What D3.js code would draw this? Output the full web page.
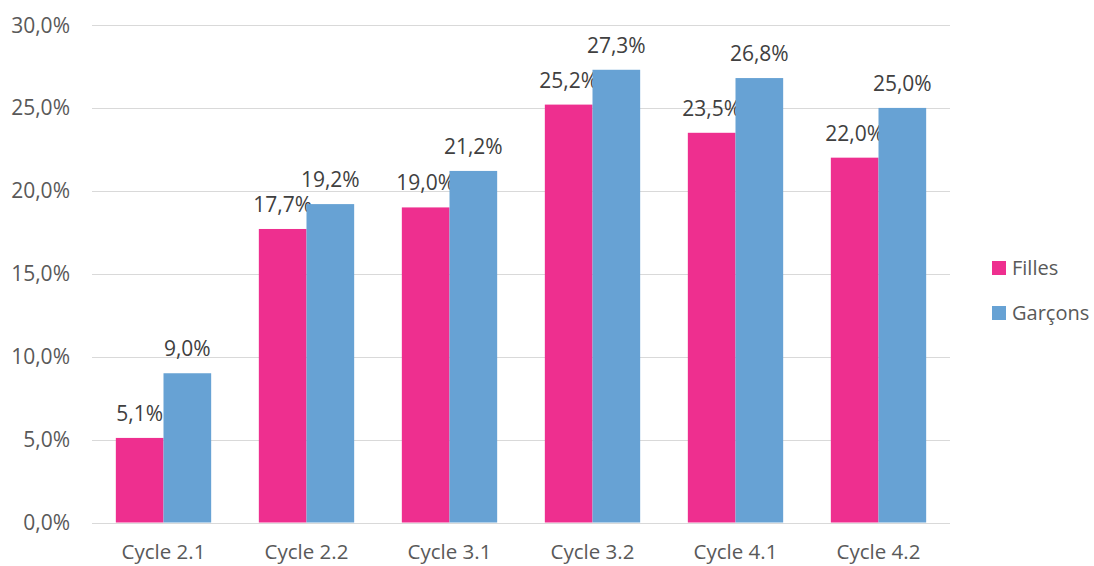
<!DOCTYPE html>
<html>
<head>
<meta charset="utf-8">
<script src="https://cdnjs.cloudflare.com/ajax/libs/d3/7.8.5/d3.min.js"></script>
<style>
  body { margin: 0; background: #fff; }
  text { font-family: "Open Sans", "Noto Sans", sans-serif; }
</style>
</head>
<body>
<div id="container"></div>
<script>
// Data
var categories = ["Cycle 2.1", "Cycle 2.2", "Cycle 3.1", "Cycle 3.2", "Cycle 4.1", "Cycle 4.2"];
var filles = [5.1, 17.7, 19.0, 25.2, 23.5, 22.0];
var garcons = [9.0, 19.2, 21.2, 27.3, 26.8, 25.0];
var seriesNames = ["Filles", "Garçons"];
var yTicks = [0, 5, 10, 15, 20, 25, 30];

var w = 1094, h = 566;
var colors = ["#EE2F8F", "#67A2D4"];
var fmt = function(v) { return v.toFixed(1).replace(".", ",") + "%"; };

var svg = d3.select("#container").append("svg")
    .attr("width", w)
    .attr("height", h);

var x = d3.scaleBand().domain(categories).range([92, 950]);
var y = d3.scaleLinear().domain([0, 30]).range([522.5, 25]);
var barW = x.bandwidth() / 3;

// grid lines
svg.selectAll("line.grid")
  .data(yTicks)
  .enter().append("line")
  .attr("x1", 92).attr("x2", 950)
  .attr("y1", function(d) { return Math.round(y(d)) + 0.5; })
  .attr("y2", function(d) { return Math.round(y(d)) + 0.5; })
  .attr("stroke", "#d9d9d9")
  .attr("stroke-width", 1);

// y labels
svg.selectAll("text.ytick")
  .data(yTicks)
  .enter().append("text")
  .attr("x", 70)
  .attr("y", function(d) { return y(d) + 7.5; })
  .attr("text-anchor", "end")
  .attr("font-size", 21)
  .attr("fill", "#595959")
  .text(fmt);

// bars
var series = [filles, garcons];
series.forEach(function(vals, s) {
  svg.selectAll("rect.s" + s)
    .data(vals)
    .enter().append("rect")
    .attr("x", function(d, i) { return x(categories[i]) + barW / 2 + s * barW; })
    .attr("y", function(d) { return y(d); })
    .attr("width", barW)
    .attr("height", function(d) { return y(0) - y(d); })
    .attr("fill", colors[s]);

  svg.selectAll("text.lab" + s)
    .data(vals)
    .enter().append("text")
    .attr("x", function(d, i) { return x(categories[i]) + barW + s * barW; })
    .attr("y", function(d) { return y(d) - 17; })
    .attr("text-anchor", "middle")
    .attr("font-size", 21)
    .attr("fill", "#404040")
    .text(fmt);
});

// x labels
svg.selectAll("text.xtick")
  .data(categories)
  .enter().append("text")
  .attr("x", function(d) { return x(d) + x.bandwidth() / 2; })
  .attr("y", 559)
  .attr("text-anchor", "middle")
  .attr("font-size", 20.5)
  .attr("fill", "#595959")
  .text(function(d) { return d; });

// legend
seriesNames.forEach(function(name, i) {
  svg.append("rect")
    .attr("x", 992).attr("y", 261 + i * 45)
    .attr("width", 14).attr("height", 14)
    .attr("fill", colors[i]);
  svg.append("text")
    .attr("x", 1012).attr("y", 275 + i * 45)
    .attr("font-size", 20)
    .attr("fill", "#595959")
    .text(name);
});
</script>
</body>
</html>
